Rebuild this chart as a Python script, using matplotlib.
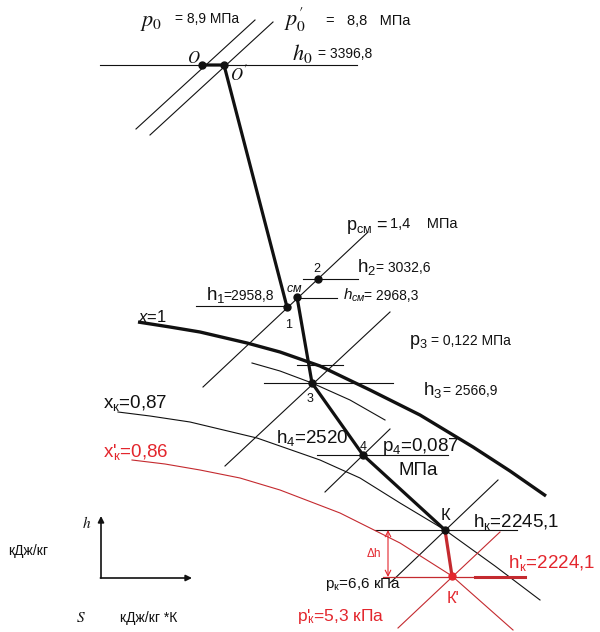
import matplotlib.pyplot as plt

plt.rcParams['font.family'] = ['Liberation Sans', 'DejaVu Sans']
plt.rcParams['mathtext.fontset'] = 'custom'
plt.rcParams['mathtext.rm'] = 'Liberation Sans'
plt.rcParams['mathtext.it'] = 'Liberation Sans:italic'

BLACK = '#111111'
RED = '#e3262d'
DRED = '#c42a2f'

# state points of the expansion, drawing units (s to the right, h downward)
state_names = ['O', "O'", '1', 'см', '2', '3', '4', 'К', "К'"]
state_s = [202, 224, 287, 297, 318, 312, 363, 445, 452]
state_h = [65, 65, 307, 297, 279, 383, 455, 530, 576]

# saturation line x = 1
sat_s = [138, 170, 200, 247, 280, 320, 370, 420, 473, 510, 546]
sat_h = [322, 327, 332, 343, 352, 366, 390, 415, 447, 471, 496]

# dryness lines
xk_s = [118, 150, 190, 257, 320, 360, 400, 445, 495, 540]
xk_h = [412, 416, 422, 438, 460, 478, 503, 530, 566, 600]
xk2_s = [132, 165, 200, 240, 280, 340, 400, 452, 513]
xk2_h = [460, 464, 470, 478, 490, 513, 543, 576, 630]
x3_s = [252, 280, 312, 350, 385]
x3_h = [363, 371, 383, 400, 420]

# isobars and isenthalps: (s1, h1, s2, h2)
isobars = [
    (136, 129, 255, 20),    # p0
    (150, 135, 273, 22),    # p0'
    (203, 387, 368, 232),   # p_cm
    (225, 466, 390, 312),   # p3
    (325, 492, 390, 429),   # p4
    (390, 583, 498, 480),   # pk
]
isenthalps = [
    (100, 65, 357, 65),     # h0
    (196, 306, 290, 306),   # h1
    (299, 298, 337, 298),   # h_cm
    (303, 279, 358, 279),   # h2
    (297, 365, 343, 365),
    (264, 383, 393, 383),   # h3
    (317, 455, 448, 455),   # h4
    (375, 530, 517, 530),   # hk
]
red_isobar = (398, 628, 500, 532)     # pk'
red_isenthalp = (383, 577, 525, 577)  # hk'

fig = plt.figure(figsize=(6, 6.32), dpi=100)
ax = fig.add_axes([0, 0, 1, 1])
ax.set_xlim(0, 600)
ax.set_ylim(632, 0)
ax.axis('off')

for s1, h1, s2, h2 in isobars + isenthalps:
    ax.plot([s1, s2], [h1, h2], color=BLACK, lw=0.8)

ax.plot(sat_s, sat_h, color=BLACK, lw=2.4, solid_capstyle='butt', solid_joinstyle='round')
ax.plot(xk_s, xk_h, color=BLACK, lw=0.8, solid_joinstyle='round')
ax.plot(x3_s, x3_h, color=BLACK, lw=0.8, solid_joinstyle='round')
ax.plot(xk2_s, xk2_h, color=DRED, lw=0.8, solid_joinstyle='round')

s1, h1, s2, h2 = red_isobar
ax.plot([s1, s2], [h1, h2], color=DRED, lw=0.8)
s1, h1, s2, h2 = red_isenthalp
ax.plot([s1, s2], [h1, h2], color=DRED, lw=0.9)
ax.plot([475, s2], [h1, h2], color=DRED, lw=2.2)

# expansion process
idx = {n: i for i, n in enumerate(state_names)}
for path, col in [(['O', "O'", '1'], BLACK), (['см', '3', '4', 'К'], BLACK), (['К', "К'"], DRED)]:
    ax.plot([state_s[idx[n]] for n in path], [state_h[idx[n]] for n in path],
            color=col, lw=2.3, solid_joinstyle='round')

for n in state_names:
    col = RED if n == "К'" else BLACK
    ax.plot(state_s[idx[n]], state_h[idx[n]], 'o', ms=5, color=col)

ax.annotate('', xy=(388, 530), xytext=(388, 577),
            arrowprops=dict(arrowstyle='<->', color=RED, lw=0.8, shrinkA=0, shrinkB=0))

# axes sketch
ax.annotate('', xy=(101, 516), xytext=(101, 578),
            arrowprops=dict(arrowstyle='-|>', color=BLACK, lw=1.2, shrinkA=0, shrinkB=0,
                            mutation_scale=9))
ax.annotate('', xy=(192, 578), xytext=(100.4, 578),
            arrowprops=dict(arrowstyle='-|>', color=BLACK, lw=1.2, shrinkA=0, shrinkB=0,
                            mutation_scale=9))

labels = [
    # (s, h, text, size, color, mathfont)
    (140, 26, r'$p_0$', 16, BLACK, 'stix'),
    (175, 23, '= 8,9 МПа', 10, BLACK, None),
    (284, 26, r'$p^{\prime}_{0}$', 16, BLACK, 'stix'),
    (326, 25, '=   8,8   МПа', 10.5, BLACK, None),
    (292, 60, r'$h_0$', 16, BLACK, 'stix'),
    (318, 58, '= 3396,8', 10, BLACK, None),
    (187, 63, r'$O$', 12, BLACK, 'stix'),
    (230, 80, r"$O'$", 12, BLACK, 'stix'),
    (346, 230, r'p$_{\mathrm{см}}$ =', 13, BLACK, None),
    (390, 228, '1,4    МПа', 10.5, BLACK, None),
    (313, 272, '2', 9, BLACK, None),
    (357, 272, r'h$_{\mathrm{2}}$', 13.5, BLACK, None),
    (376, 272, '= 3032,6', 10, BLACK, None),
    (286, 292, r'$см$', 9, BLACK, None),
    (343, 300, r'$h_{см}$', 11, BLACK, None),
    (364, 300, '= 2968,3', 10, BLACK, None),
    (206, 300, r'h$_{\mathrm{1}}$', 13.5, BLACK, None),
    (223, 300, '=2958,8', 10, BLACK, None),
    (285, 328, '1', 9, BLACK, None),
    (138, 322, r'$x$=1', 12, BLACK, None),
    (409, 345, r'p$_{\mathrm{3}}$', 13, BLACK, None),
    (431, 345, '= 0,122 МПа', 10, BLACK, None),
    (423, 395, r'h$_{\mathrm{3}}$', 13.5, BLACK, None),
    (443, 395, '= 2566,9', 10, BLACK, None),
    (307, 402, '3', 9, BLACK, None),
    (103, 408, r'x$_{\mathrm{к}}$=0,87', 13.5, BLACK, None),
    (276, 443, r'h$_{\mathrm{4}}$=2520', 13.5, BLACK, None),
    (360, 450, '4', 9, BLACK, None),
    (382, 451, r'p$_{\mathrm{4}}$=0,087', 13.5, BLACK, None),
    (398, 475, 'МПа', 13.5, BLACK, None),
    (103, 457, r"x'$\!_{\mathrm{к}}$=0,86", 13.5, RED, None),
    (441, 520, 'К', 12, BLACK, None),
    (473, 527, r'h$_{\mathrm{к}}$=2245,1', 13.5, BLACK, None),
    (508, 568, r"h'$\!_{\mathrm{к}}$=2224,1", 13.5, RED, None),
    (367, 557, 'Δh', 8.5, RED, None),
    (325, 588, r'p$_{\mathrm{к}}$=6,6 кПа', 11, BLACK, None),
    (447, 603, "К'", 12, RED, None),
    (297, 621, r"p'$\!_{\mathrm{к}}$=5,3 кПа", 12.5, RED, None),
    (82, 528, r'$h$', 11, BLACK, 'stix'),
    (8, 555, 'кДж/кг', 10, BLACK, None),
    (76, 622, r'$S$', 11, BLACK, 'stix'),
    (120, 622, 'кДж/кг *К', 10, BLACK, None),
]
for s, h, txt, size, col, mf in labels:
    kw = {'math_fontfamily': mf} if mf else {}
    ax.text(s, h, txt, fontsize=size, color=col, va='baseline', ha='left', **kw)

fig.savefig('out.png', dpi=100, facecolor='white')
